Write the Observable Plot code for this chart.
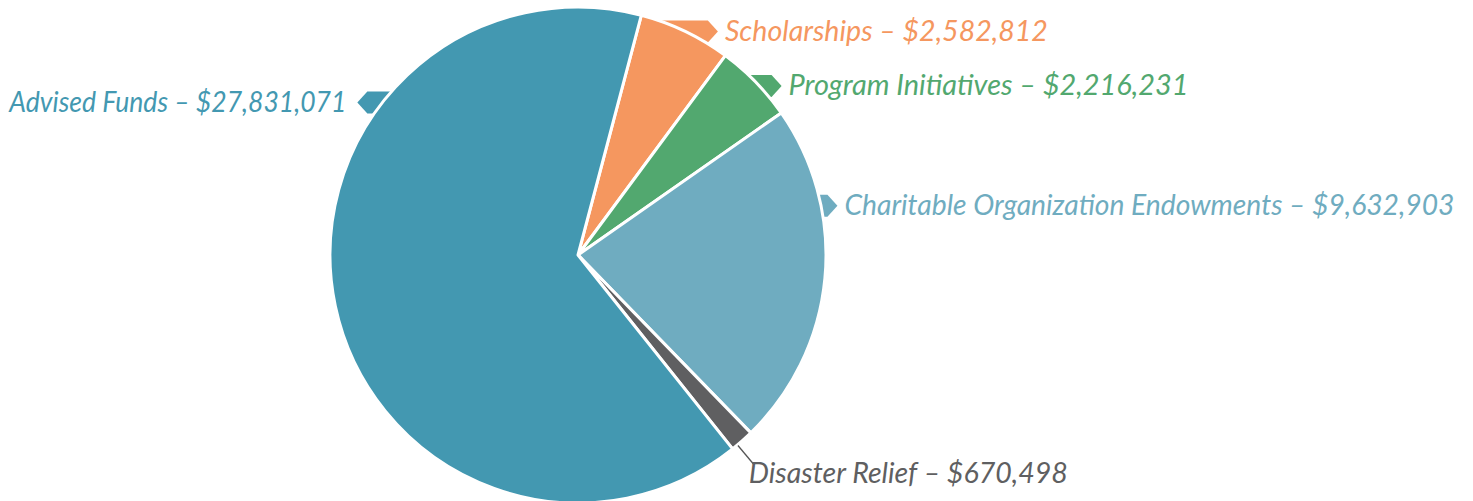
<!DOCTYPE html>
<html>
<head>
<meta charset="utf-8">
<script src="https://cdn.jsdelivr.net/npm/d3@7"></script>
<script src="https://cdn.jsdelivr.net/npm/@observablehq/plot@0.6"></script>
<style>
  html, body { margin: 0; padding: 0; background: #fff; }
  #chart svg { display: block; }
</style>
</head>
<body>
<div id="chart"></div>
<script>
// ---- data ----
const categories = ["Scholarships", "Program Initiatives", "Charitable Organization Endowments", "Disaster Relief", "Advised Funds"];
const values = [2582812, 2216231, 9632903, 670498, 27831071];
const colors = ["#f5975f", "#52a86f", "#6facc0", "#5f5f61", "#4398b1"];

// ---- layout ----
const W = 1473, H = 501;
const CX = 578, CY = 255, R = 248;
const startDeg = 14.8;
const labelAngleDeg = [25.4, 46.9, 78.4, 140, -51.9];   // where the tag meets the pie
const tipOffsetPx = [33, 22, 16, 0, 26];                 // tag tip distance from the rim
const labelWidthPx = [323, 400, 610, 319, 337];
const fontSize = 28.5;

const fmt = d3.format("$,");
const data = categories.map((c, i) => ({category: c, value: values[i]}));

const rad = d => d * Math.PI / 180;
const rim = (deg, rho = 1) => [Math.sin(rad(deg)) * rho, -Math.cos(rad(deg)) * rho];

const tags = [], labels = [], leaders = [];
data.forEach((d, i) => {
  const [ax, ay] = rim(labelAngleDeg[i]);
  const text = `${d.category} – ${fmt(d.value)}`;
  if (d.category === "Disaster Relief") {
    const [x1, y1] = rim(labelAngleDeg[i], 1.0);
    const [x2, y2] = rim(labelAngleDeg[i], 1.1);
    leaders.push({category: d.category, x1, y1, x2, y2});
    labels.push({category: d.category, text, x: x2 - 5 / R, y: y2 + 9 / R, anchor: "start"});
  } else {
    const left = ax < 0;
    const tipX = ax + (left ? -1 : 1) * tipOffsetPx[i] / R;
    tags.push({category: d.category, x: tipX, y: ay, rotate: left ? 180 : 0});
    labels.push({category: d.category, text, x: tipX + (left ? -11 : 7) / R, y: ay, anchor: left ? "end" : "start"});
  }
});

// tag symbol: tip at origin, body extending to the left
const tagSymbol = {
  draw(ctx) {
    const h = 11, p = 10, L = 70;
    ctx.moveTo(0, 0);
    ctx.lineTo(-p, -h);
    ctx.lineTo(-L, -h);
    ctx.lineTo(-L, h);
    ctx.lineTo(-p, h);
    ctx.closePath();
  }
};

// pie mark drawn through the plot's x/y/color scales
function pieMark(index, scales) {
  const cx = scales.x(0), cy = scales.y(0);
  const r = scales.x(1) - scales.x(0);
  const arcs = d3.pie().sort(null).value(d => d.value)
    .startAngle(rad(startDeg)).endAngle(rad(startDeg) + 2 * Math.PI)(data);
  const arc = d3.arc().innerRadius(0).outerRadius(r);
  const g = d3.create("svg:g").attr("transform", `translate(${cx},${cy})`);
  g.selectAll("path").data(arcs).join("path")
    .attr("d", arc)
    .attr("fill", d => scales.color(d.data.category))
    .attr("stroke", "white")
    .attr("stroke-width", 3)
    .attr("stroke-linejoin", "round");
  return g.node();
}

const chart = Plot.plot({
  width: W, height: H,
  margin: 0,
  style: {background: "white", overflow: "visible"},
  x: {domain: [-CX / R, (W - CX) / R], range: [0, W], axis: null},
  y: {domain: [-CY / R, (H - CY) / R], range: [0, H], axis: null},
  color: {domain: categories, range: colors},
  marks: [
    Plot.dot(tags, {x: "x", y: "y", fill: "category", symbol: tagSymbol, rotate: "rotate", r: 5, stroke: "none"}),
    pieMark,
    Plot.link(leaders, {x1: "x1", y1: "y1", x2: "x2", y2: "y2", stroke: "#555", strokeWidth: 1.3}),
    Plot.text(labels, {
      x: "x", y: "y", text: "text", fill: "category",
      fontSize, fontStyle: "italic", fontFamily: "Lato, 'Open Sans', sans-serif", fontWeight: 400
    })
  ]
});

// apply anchors and label widths
const texts = chart.querySelectorAll('g[aria-label="text"] text');
texts.forEach((t, i) => {
  t.setAttribute("text-anchor", labels[i].anchor);
  const ci = categories.indexOf(labels[i].category);
  t.setAttribute("textLength", labelWidthPx[ci]);
  t.setAttribute("lengthAdjust", "spacingAndGlyphs");
});

document.getElementById("chart").appendChild(chart);
</script>
</body>
</html>
